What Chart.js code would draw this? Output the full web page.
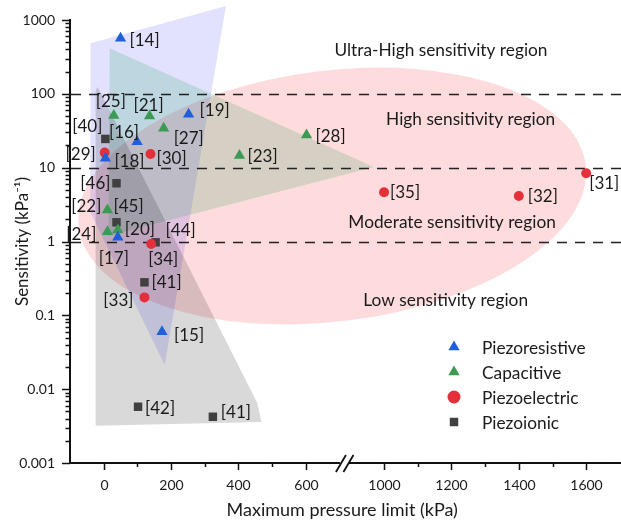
<!DOCTYPE html>
<html>
<head>
<meta charset="utf-8">
<script src="https://cdn.jsdelivr.net/npm/chart.js@4.4.0/dist/chart.umd.min.js"></script>
<style>
  html, body { margin: 0; padding: 0; background: #fff; }
</style>
</head>
<body>
<canvas id="chart" width="621" height="521"></canvas>
<script>
const ctx = document.getElementById('chart').getContext('2d');

// pressure axis is broken between 700 and 900 kPa
const BREAK_FROM = 700;
const BREAK_TO = 900;
const BREAK_SHIFT = 168;
const toAxis = v => v <= BREAK_FROM ? v
    : v >= BREAK_TO ? v - BREAK_SHIFT
    : BREAK_FROM + (v - BREAK_FROM) * (BREAK_TO - BREAK_SHIFT - BREAK_FROM) / (BREAK_TO - BREAK_FROM);

const xTicks = [0, 200, 400, 600, 1000, 1200, 1400, 1600];
const xMinorTicks = [100, 300, 500, 1100, 1300, 1500];
const yTicks = [0.001, 0.01, 0.1, 1, 10, 100, 1000];
const yTickLabels = ['0.001', '0.01', '0.1', '1', '10', '100', '1000'];
const levelLines = [1, 10, 100];

const seriesNames = ['Piezoresistive', 'Capacitive', 'Piezoelectric', 'Piezoionic'];

const resistiveRefs = ['[14]', '[19]', '[16]', '[18]', '[17]', '[15]'];
const resistiveP = [50, 252, 99, 5, 42, 173];
const resistiveS = [567, 53, 22.5, 13.4, 1.14, 0.06];

const capacitiveRefs = ['[25]', '[21]', '[27]', '[28]', '[23]', '[22]', '[24]', '[20]'];
const capacitiveP = [30, 136, 178, 602, 403, 11, 11, 42];
const capacitiveS = [50.7, 50, 34.2, 27.7, 14.6, 2.67, 1.36, 1.43];

const electricRefs = ['[29]', '[30]', '[34]', '[33]', '[35]', '[32]', '[31]'];
const electricP = [3, 139, 141, 121, 1000, 1400, 1600];
const electricS = [16, 15.3, 0.925, 0.175, 4.64, 4.14, 8.4];

const ionicRefs = ['[40]', '[46]', '[45]', '[44]', '[41]', '[42]', '[41]'];
const ionicP = [5, 38, 38, 154, 121, 102, 324];
const ionicS = [24.5, 6.15, 1.82, 0.975, 0.28, 0.00578, 0.00423];

// shaded zones (corner points, kPa / kPa^-1)
const resistiveZoneP = [-39, 363, 181, -40];
const resistiveZoneS = [485, 1550, 0.0212, 2.5];
const capacitiveZoneP = [18, 970, 14];
const capacitiveZoneS = [415, 10.2, 1.19];
const ionicZoneP = [-24, -18, 456, 468, -24];
const ionicZoneS = [110, 124, 0.0065, 0.0036, 0.0032];
// piezoelectric ellipse: centre, half width (kPa), half height (decades), tilt (deg)
const electricZoneP = 678;
const electricZoneS = 4.13;
const electricZoneHalfP = 758;
const electricZoneHalfDecades = 1.7;
const electricZoneTilt = -7;

const regionNames = ['Ultra-High sensitivity region', 'High sensitivity region', 'Moderate sensitivity region', 'Low sensitivity region'];
const regionP = [1169, 1257, 1202, 1183];
const regionS = [393, 45.7, 1.8, 0.158];

// where each reference label sits next to its marker: [align, dx, dy]
const resistiveLabelAt = [['left', 9, 2], ['left', 11, -4], ['right', 2, -9], ['left', 9, 3], ['center', -4, 21], ['left', 12, 4]];
const capacitiveLabelAt = [['center', -3, -14], ['center', -1, -11], ['left', 10, 10], ['left', 9, 2], ['left', 8, 1], ['right', -6, -3], ['right', -11, 3], ['left', 7, -1]];
const electricLabelAt = [['right', -9, 2], ['left', 6, 4], ['center', 12, 16], ['right', -11, 3], ['left', 6, 0], ['left', 9, 1], ['left', 3, 10]];
const ionicLabelAt = [['right', -3, -12], ['right', -6, 0], ['left', -3, -16], ['left', 10, -12], ['left', 7, 0], ['left', 7, 2], ['left', 8, -4]];

const colors = ['#1f5fd8', '#3c9a52', '#e4303a', '#404040'];
const styles = ['triangle', 'triangle', 'circle', 'rect'];
const radii = [6.5, 6.5, 5, 6];
const FONT = 'Lato, "Open Sans", sans-serif';
const TEXT = '#1a1a1a';

const points = (p, s) => p.map((v, i) => ({ x: toAxis(v), y: s[i] }));

const series = [
    { refs: resistiveRefs, at: resistiveLabelAt, data: points(resistiveP, resistiveS) },
    { refs: capacitiveRefs, at: capacitiveLabelAt, data: points(capacitiveP, capacitiveS) },
    { refs: electricRefs, at: electricLabelAt, data: points(electricP, electricS) },
    { refs: ionicRefs, at: ionicLabelAt, data: points(ionicP, ionicS) },
];

const zones = [
    { p: resistiveZoneP, s: resistiveZoneS, fill: 'rgba(30,30,255,0.13)' },
    { p: capacitiveZoneP, s: capacitiveZoneS, fill: 'rgba(0,150,60,0.16)' },
    { p: ionicZoneP, s: ionicZoneS, fill: 'rgba(0,0,0,0.15)' },
];

function marker(c, style, x, y, r, color) {
    c.fillStyle = color;
    c.beginPath();
    if (style === 'triangle') {
        c.moveTo(x, y - r);
        c.lineTo(x + r * 0.866, y + r / 2);
        c.lineTo(x - r * 0.866, y + r / 2);
        c.closePath();
    } else if (style === 'circle') {
        c.arc(x, y, r, 0, Math.PI * 2);
    } else {
        const h = r * Math.SQRT1_2;
        c.rect(x - h, y - h, 2 * h, 2 * h);
    }
    c.fill();
}

// the axes have fixed sizes, no extra room for overhanging tick labels
const noPadding = s => { s.paddingLeft = 0; s.paddingRight = 0; s.paddingTop = 0; s.paddingBottom = 0; };

const overlay = {
    id: 'overlay',
    beforeDatasetsDraw(chart) {
        const { ctx: c, chartArea: a, scales: { x, y } } = chart;
        c.save();
        // piezoelectric ellipse
        const cx = x.getPixelForValue(toAxis(electricZoneP));
        const cy = y.getPixelForValue(electricZoneS);
        const rx = x.getPixelForValue(toAxis(electricZoneP) + electricZoneHalfP) - cx;
        const ry = cy - y.getPixelForValue(electricZoneS * Math.pow(10, electricZoneHalfDecades));
        c.fillStyle = 'rgba(250,0,15,0.14)';
        c.beginPath();
        c.ellipse(cx, cy, rx, ry, electricZoneTilt * Math.PI / 180, 0, Math.PI * 2);
        c.fill();

        zones.forEach(z => {
            c.fillStyle = z.fill;
            c.beginPath();
            z.p.forEach((v, i) => {
                const px = x.getPixelForValue(toAxis(v)), py = y.getPixelForValue(z.s[i]);
                i ? c.lineTo(px, py) : c.moveTo(px, py);
            });
            c.closePath();
            c.fill();
        });

        // level lines
        c.strokeStyle = '#222';
        c.lineWidth = 1.5;
        c.setLineDash([10, 8]);
        levelLines.forEach(v => {
            const py = Math.round(y.getPixelForValue(v)) + 0.5;
            c.beginPath();
            c.moveTo(a.left + 1, py);
            c.lineTo(chart.width, py);
            c.stroke();
        });
        c.restore();
    },
    afterDatasetsDraw(chart) {
        const { ctx: c, scales: { x, y } } = chart;
        c.save();
        c.fillStyle = TEXT;
        c.textBaseline = 'middle';
        c.font = '17px ' + FONT;
        series.forEach((s, k) => {
            const meta = chart.getDatasetMeta(k);
            meta.data.forEach((pt, i) => {
                const [align, dx, dy] = s.at[i];
                c.textAlign = align;
                c.fillText(s.refs[i], pt.x + dx, pt.y + dy);
            });
        });
        c.textAlign = 'center';
        c.font = '17.3px ' + FONT;
        regionNames.forEach((t, i) => {
            c.fillText(t, x.getPixelForValue(toAxis(regionP[i])), y.getPixelForValue(regionS[i]));
        });
        c.restore();
    },
    afterDraw(chart) {
        const { ctx: c, chartArea: a, scales: { x, y } } = chart;
        c.save();
        // carry the pressure axis line on to the canvas edge
        c.fillStyle = '#111';
        c.fillRect(a.right - 1, a.bottom - 1, chart.width - a.right + 1, 2);
        c.strokeStyle = '#111';
        c.lineWidth = 1.5;
        // y ticks, major and minor (log)
        yTicks.forEach((v, i) => {
            const py = Math.round(y.getPixelForValue(v)) + 0.5;
            c.beginPath(); c.moveTo(a.left - 8, py); c.lineTo(a.left, py); c.stroke();
            if (i < yTicks.length - 1) {
                for (let m = 2; m <= 9; m++) {
                    const my = Math.round(y.getPixelForValue(v * m)) + 0.5;
                    c.beginPath(); c.moveTo(a.left - 4.5, my); c.lineTo(a.left, my); c.stroke();
                }
            }
        });
        // x ticks and their labels (real kPa values on the broken axis)
        c.fillStyle = TEXT;
        c.font = '14px ' + FONT;
        c.textAlign = 'center';
        c.textBaseline = 'middle';
        xTicks.forEach(v => {
            const px = Math.round(x.getPixelForValue(toAxis(v))) + 0.5;
            c.beginPath(); c.moveTo(px, a.bottom); c.lineTo(px, a.bottom + 7); c.stroke();
            c.fillText(String(v), px, a.bottom + 22);
        });
        xMinorTicks.forEach(v => {
            const px = Math.round(x.getPixelForValue(toAxis(v))) + 0.5;
            c.beginPath(); c.moveTo(px, a.bottom); c.lineTo(px, a.bottom + 4); c.stroke();
        });
        // axis break
        const bx = x.getPixelForValue(toAxis((BREAK_FROM + BREAK_TO) / 2));
        c.fillStyle = '#fff';
        c.fillRect(bx - 5, a.bottom - 3, 9, 6);
        c.lineWidth = 1.8;
        [-4, 3.5].forEach(o => {
            c.beginPath();
            c.moveTo(bx + o - 5, a.bottom + 9);
            c.lineTo(bx + o + 5, a.bottom - 8);
            c.stroke();
        });

        // legend
        const lx = chart.width - 167, ly = a.bottom - 116;
        c.font = '17.3px ' + FONT;
        c.textAlign = 'left';
        c.textBaseline = 'middle';
        seriesNames.forEach((name, i) => {
            const yy = ly + i * 25;
            marker(c, styles[i], lx, yy, i === 3 ? 6 : 6.5, colors[i]);
            c.fillStyle = TEXT;
            c.fillText(name, lx + 28, yy + 1);
        });
        c.restore();
    }
};

const chart = new Chart(ctx, {
    type: 'scatter',
    data: {
        datasets: series.map((s, i) => ({
            label: seriesNames[i],
            data: s.data,
            pointStyle: styles[i],
            pointRadius: radii[i],
            pointBackgroundColor: colors[i],
            pointBorderWidth: 0,
            pointHoverRadius: radii[i],
            clip: false
        }))
    },
    options: {
        responsive: false,
        animation: false,
        layout: { padding: { top: 20, right: 0, left: 0, bottom: 0 } },
        plugins: { legend: { display: false }, tooltip: { enabled: false } },
        scales: {
            x: {
                type: 'linear',
                min: -100,
                // Chart.js keeps ~5px spare on the right, the axis is drawn on to 1700 by hand
                max: toAxis(1684),
                afterBuildTicks: s => { s.ticks = xTicks.map(v => ({ value: toAxis(v) })); },
                afterFit: s => { s.height = 58; noPadding(s); },
                ticks: { display: false },
                grid: { display: false, drawTicks: false },
                border: { display: true, color: '#111', width: 2 },
                title: {
                    display: true,
                    text: 'Maximum pressure limit (kPa)',
                    color: TEXT,
                    font: { family: FONT, size: 18 },
                    padding: { top: 0, bottom: 0 }
                }
            },
            y: {
                type: 'logarithmic',
                min: 0.001,
                max: 1000,
                afterBuildTicks: s => { s.ticks = yTicks.map(v => ({ value: v })); },
                afterFit: s => { s.width = 70; noPadding(s); },
                ticks: {
                    callback: (v, i) => yTickLabels[i],
                    color: TEXT,
                    font: { family: FONT, size: 14 },
                    padding: 15,
                    autoSkip: false
                },
                grid: { display: false, drawTicks: false },
                border: { display: true, color: '#111', width: 2 },
                title: {
                    display: true,
                    text: 'Sensitivity (kPa\u207B\u00B9)',
                    color: TEXT,
                    font: { family: FONT, size: 17 },
                    padding: { top: 12, bottom: 0 }
                }
            }
        }
    },
    plugins: [overlay]
});
</script>
</body>
</html>
